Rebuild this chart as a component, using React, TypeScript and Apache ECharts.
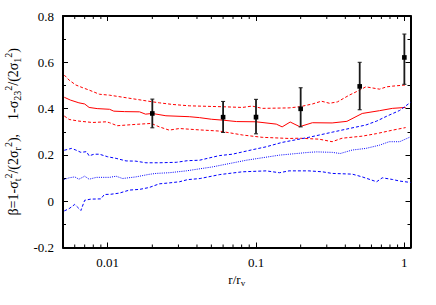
import React, { useEffect, useRef } from "react";
import * as echarts from "echarts";

const X_MIN = 0.005;
const X_MAX = 1.1;
const Y_MIN = -0.2;
const Y_MAX = 0.8;
const Y_INTERVAL = 0.2;
const X_LABELS = [0.01, 0.1, 1];
const X_MINOR = [0.006, 0.007, 0.008, 0.009, 0.02, 0.03, 0.04, 0.05, 0.06, 0.07, 0.08, 0.09, 0.2, 0.3, 0.4, 0.5, 0.6, 0.7, 0.8, 0.9];

const redMid = [[0.0051,0.449],[0.0056,0.437],[0.0064,0.425],[0.007,0.420],[0.0075,0.405],[0.0085,0.400],[0.0103,0.397],[0.011,0.389],[0.013,0.387],[0.0164,0.386],[0.018,0.376],[0.02,0.379],[0.0247,0.369],[0.0355,0.365],[0.0416,0.361],[0.05,0.354],[0.06,0.350],[0.074,0.344],[0.1,0.343],[0.137,0.333],[0.15,0.321],[0.17,0.342],[0.197,0.322],[0.24,0.339],[0.326,0.338],[0.41,0.345],[0.52,0.379],[0.68,0.391],[0.83,0.401],[1.02,0.405]];
const redUpper = [[0.0051,0.545],[0.0055,0.523],[0.0061,0.502],[0.0068,0.490],[0.0075,0.480],[0.0088,0.462],[0.0103,0.458],[0.0133,0.447],[0.0197,0.430],[0.0223,0.425],[0.0273,0.418],[0.0355,0.412],[0.0595,0.408],[0.081,0.405],[0.094,0.411],[0.11,0.401],[0.167,0.403],[0.197,0.408],[0.24,0.420],[0.276,0.432],[0.313,0.423],[0.354,0.429],[0.425,0.458],[0.5,0.480],[0.55,0.494],[0.68,0.484],[0.76,0.494],[0.83,0.497],[1.02,0.502]];
const redLower = [[0.0051,0.368],[0.0055,0.353],[0.0064,0.346],[0.0079,0.340],[0.0098,0.343],[0.0103,0.339],[0.0116,0.326],[0.0134,0.329],[0.0156,0.332],[0.0197,0.336],[0.0223,0.321],[0.026,0.307],[0.0305,0.314],[0.0355,0.311],[0.0416,0.308],[0.0566,0.303],[0.081,0.286],[0.11,0.276],[0.167,0.271],[0.197,0.272],[0.266,0.268],[0.326,0.257],[0.38,0.272],[0.52,0.281],[0.65,0.292],[0.82,0.306],[1.02,0.318]];
const blueUpper = [[0.0051,0.220],[0.0057,0.228],[0.0061,0.221],[0.0066,0.211],[0.0072,0.214],[0.0075,0.196],[0.0081,0.203],[0.0088,0.203],[0.0100,0.192],[0.0114,0.185],[0.0133,0.174],[0.0155,0.173],[0.0181,0.166],[0.0223,0.166],[0.029,0.168],[0.0345,0.175],[0.0416,0.177],[0.0566,0.197],[0.0693,0.203],[0.094,0.222],[0.117,0.235],[0.15,0.254],[0.227,0.276],[0.326,0.298],[0.425,0.314],[0.55,0.329],[0.65,0.346],[0.76,0.367],[0.93,0.392],[1.1,0.427]];
const blueMid = [[0.0051,0.094],[0.0055,0.101],[0.006,0.105],[0.0064,0.095],[0.007,0.108],[0.0075,0.095],[0.0084,0.103],[0.0103,0.103],[0.0114,0.108],[0.0126,0.098],[0.0155,0.105],[0.019,0.116],[0.0212,0.120],[0.026,0.123],[0.0338,0.131],[0.0507,0.148],[0.086,0.177],[0.144,0.199],[0.227,0.211],[0.256,0.213],[0.326,0.211],[0.37,0.206],[0.445,0.221],[0.55,0.228],[0.68,0.242],[0.79,0.257],[0.93,0.257],[1.1,0.278]];
const blueLower = [[0.0051,-0.042],[0.0055,-0.032],[0.006,-0.014],[0.00625,-0.025],[0.0066,-0.040],[0.007,0.004],[0.0077,0.009],[0.009,0.010],[0.0095,0.029],[0.0105,0.030],[0.012,0.035],[0.014,0.048],[0.0164,0.051],[0.019,0.059],[0.0223,0.075],[0.026,0.079],[0.0305,0.084],[0.0345,0.093],[0.042,0.098],[0.057,0.115],[0.081,0.127],[0.117,0.131],[0.144,0.123],[0.167,0.131],[0.227,0.131],[0.28,0.127],[0.326,0.120],[0.445,0.117],[0.52,0.105],[0.65,0.084],[0.71,0.101],[0.83,0.094],[0.93,0.087],[1.1,0.081]];

const pointX = [0.02, 0.06, 0.1, 0.2, 0.5, 1.0];
const pointY = [0.379, 0.363, 0.363, 0.399, 0.496, 0.621];
const pointLo = [0.317, 0.297, 0.291, 0.321, 0.395, 0.505];
const pointHi = [0.441, 0.431, 0.440, 0.490, 0.600, 0.722];

const FONT = "Liberation Serif";

export default function App() {
  const ref = useRef<HTMLDivElement>(null);
  useEffect(() => {
    const chart = echarts.init(ref.current!, null, { renderer: "svg" });
    const richY = {
      a: { fontFamily: FONT, fontSize: 14, color: "#000" },
      sub: { fontFamily: FONT, fontSize: 10, color: "#000", padding: [8, 0, 0, 0] },
      sup: { fontFamily: FONT, fontSize: 10, color: "#000", padding: [0, 0, 10, 0] },
    };
    const richX = {
      a: { fontFamily: FONT, fontSize: 13, color: "#000" },
      sub: { fontFamily: FONT, fontSize: 9, color: "#000", padding: [7, 0, 0, 0] },
    };
    const axisLine = { show: true, onZero: false, lineStyle: { color: "#000", width: 2 } };
    const xCommon = {
      type: "log",
      logBase: 10,
      min: X_MIN,
      max: X_MAX,
      axisLine,
      axisTick: { show: true, inside: true, length: 5, lineStyle: { color: "#000", width: 1 } },
      splitLine: { show: false },
    };
    const yCommon = {
      type: "value",
      min: Y_MIN,
      max: Y_MAX,
      interval: Y_INTERVAL,
      axisLine,
      axisTick: { show: true, inside: true, length: 5, lineStyle: { color: "#000", width: 1 } },
      minorTick: { show: true, splitNumber: 2, length: 3, lineStyle: { color: "#000", width: 1 } },
      splitLine: { show: false },
      minorSplitLine: { show: false },
    };
    const lineSeries = (data: number[][], color: string, type: any) => ({
      type: "line",
      data,
      symbol: "none",
      showSymbol: false,
      smooth: false,
      xAxisIndex: 0,
      yAxisIndex: 0,
      lineStyle: { color, width: 1, type },
      z: 2,
    });
    const option: any = {
      animation: false,
      backgroundColor: "#fff",
      textStyle: { fontFamily: FONT },
      grid: { left: 63, right: 25.5, top: 16, bottom: 57.5, containLabel: false, outerBoundsMode: "none" },
      xAxis: [
        {
          ...xCommon,
          position: "bottom",
          axisLabel: {
            show: true,
            margin: 8,
            fontFamily: FONT,
            fontSize: 13,
            color: "#000",
            formatter: (v: number) => {
              const m = X_LABELS.find((t) => Math.abs(t - v) / t < 1e-6);
              return m === undefined ? "" : String(m);
            },
          },
          name: "{a|r/r}{sub|v}",
          nameLocation: "middle",
          nameGap: 18,
          nameTextStyle: { fontFamily: FONT, rich: richX },
        },
        { ...xCommon, position: "top", axisLabel: { show: false } },
      ],
      yAxis: [
        {
          ...yCommon,
          position: "left",
          axisLabel: { show: true, margin: 9, fontFamily: FONT, fontSize: 13, color: "#000" },
          name: "{a|β=1-σ}{sub|t}{sup|2}{a|/(2σ}{sub|r}{sup|2}{a|),    1-σ}{sub|23}{sup|2}{a|/(2σ}{sub|1}{sup|2}{a|)}",
          nameLocation: "middle",
          nameRotate: 90,
          nameGap: 33,
          nameTextStyle: { fontFamily: FONT, rich: richY },
        },
        { ...yCommon, position: "right", axisLabel: { show: false } },
      ],
      series: [
        lineSeries(redUpper, "#ff0000", [3, 2]),
        lineSeries(redLower, "#ff0000", [3, 2]),
        lineSeries(redMid, "#ff0000", "solid"),
        lineSeries(blueUpper, "#0000ff", [3, 2]),
        lineSeries(blueLower, "#0000ff", [3, 2]),
        lineSeries(blueMid, "#0000ff", [1, 1.2]),
        {
          type: "custom",
          xAxisIndex: 0,
          yAxisIndex: 0,
          clip: false,
          z: 5,
          data: X_MINOR.map((v) => [v, Y_MIN]),
          renderItem: (_p: any, api: any) => {
            const v = api.value(0);
            const b = api.coord([v, Y_MIN]);
            const t = api.coord([v, Y_MAX]);
            return {
              type: "group",
              children: [
                { type: "line", shape: { x1: b[0], y1: b[1], x2: b[0], y2: b[1] - 3 }, style: { stroke: "#000", lineWidth: 1 } },
                { type: "line", shape: { x1: t[0], y1: t[1], x2: t[0], y2: t[1] + 3 }, style: { stroke: "#000", lineWidth: 1 } },
              ],
            };
          },
        },
        {
          type: "custom",
          xAxisIndex: 0,
          yAxisIndex: 0,
          z: 10,
          encode: { x: 0, y: [1, 2, 3] },
          data: pointX.map((x, i) => [x, pointY[i], pointLo[i], pointHi[i]]),
          renderItem: (_p: any, api: any) => {
            const x = api.value(0);
            const p = api.coord([x, api.value(1)]);
            const lo = api.coord([x, api.value(2)]);
            const hi = api.coord([x, api.value(3)]);
            const st = { stroke: "#1a1a1a", lineWidth: 1.8 };
            const cap = 2;
            return {
              type: "group",
              children: [
                { type: "line", shape: { x1: p[0], y1: lo[1], x2: p[0], y2: hi[1] }, style: st },
                { type: "line", shape: { x1: p[0] - cap, y1: lo[1], x2: p[0] + cap, y2: lo[1] }, style: { stroke: "#1a1a1a", lineWidth: 1 } },
                { type: "line", shape: { x1: p[0] - cap, y1: hi[1], x2: p[0] + cap, y2: hi[1] }, style: { stroke: "#1a1a1a", lineWidth: 1 } },
                { type: "rect", shape: { x: p[0] - 2.3, y: p[1] - 2.3, width: 4.6, height: 4.6 }, style: { fill: "#000" } },
              ],
            };
          },
        },
      ],
    };
    chart.setOption(option);
    return () => chart.dispose();
  }, []);
  return (
    <div
      ref={ref}
      style={{ position: "fixed", left: 0, top: 0, width: 436, height: 305, background: "#fff" }}
    />
  );
}
